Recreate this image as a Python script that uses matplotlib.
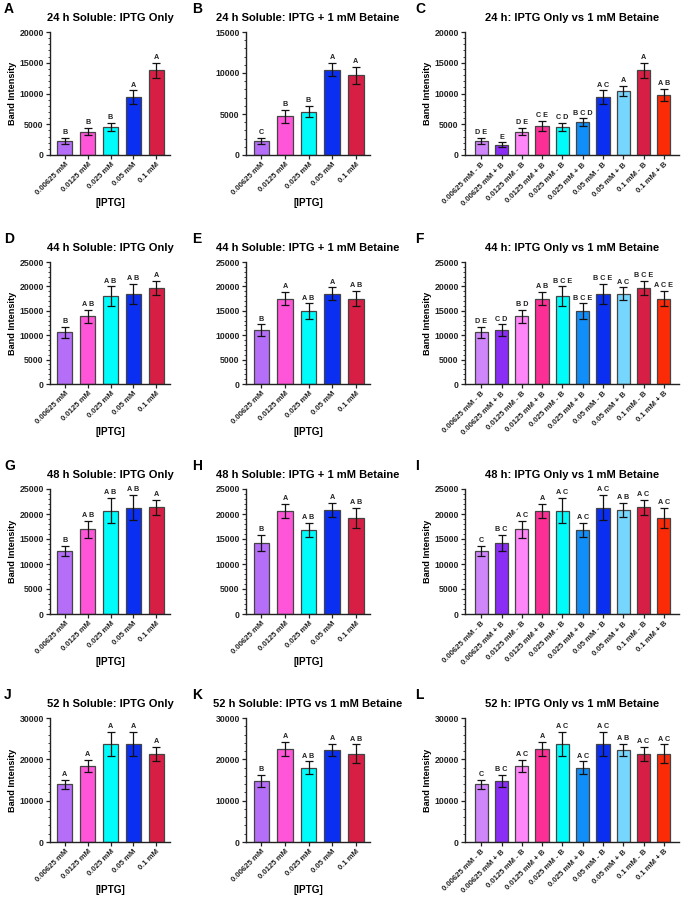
import matplotlib
matplotlib.use("Agg")
import matplotlib.pyplot as plt
import numpy as np
from matplotlib.ticker import MultipleLocator, AutoMinorLocator

plt.rcParams['font.family'] = ['Liberation Sans', 'DejaVu Sans']
plt.rcParams['font.weight'] = 'bold'

# concentrations
conc = ["0.00625 mM", "0.0125 mM", "0.025 mM", "0.05 mM", "0.1 mM"]
combo_labels = []
for c in conc:
    combo_labels += [c + " - B", c + " + B"]

# colours
single_colors = ["#b56ef8", "#ff55d8", "#00fbfb", "#0a2ff0", "#d71f45"]
combo_colors = ["#cf86fb", "#8a2df5", "#ff86f8", "#fb2f95", "#00fbfb",
                "#118ef7", "#0a2ff0", "#77d6fd", "#d71f45", "#fb2a07"]

# 24 h
h24_only = [2300, 3800, 4500, 9400, 13800]
h24_only_err = [450, 550, 650, 1100, 1200]
h24_only_let = ["B", "B", "B", "A", "A"]
h24_bet = [1700, 4700, 5300, 10400, 9700]
h24_bet_err = [350, 800, 650, 800, 1000]
h24_bet_let = ["C", "B", "B", "A", "A"]
h24_combo_let = ["D E", "E", "D E", "C E", "C D", "B C D", "A C", "A", "A", "A B"]

# 44 h
h44_only = [10600, 13900, 18000, 18400, 19700]
h44_only_err = [1100, 1300, 2000, 2100, 1400]
h44_only_let = ["B", "A B", "A B", "A B", "A"]
h44_bet = [11000, 17500, 14900, 18500, 17500]
h44_bet_err = [1200, 1300, 1600, 1300, 1600]
h44_bet_let = ["B", "A", "A B", "A", "A B"]
h44_combo_let = ["D E", "C D", "B D", "A B", "B C E", "B C E", "B C E", "A C", "B C E", "A C E"]

# 48 h
h48_only = [12600, 17000, 20700, 21300, 21400]
h48_only_err = [1000, 1700, 2500, 2500, 1500]
h48_only_let = ["B", "A B", "A B", "A B", "A"]
h48_bet = [14200, 20600, 16900, 20900, 19300]
h48_bet_err = [1600, 1400, 1400, 1400, 2000]
h48_bet_let = ["B", "A", "A B", "A", "A B"]
h48_combo_let = ["C", "B C", "A C", "A", "A C", "A C", "A C", "A B", "A C", "A C"]

# 52 h
h52_only = [14000, 18400, 23700, 23700, 21300]
h52_only_err = [1100, 1400, 3000, 2900, 1700]
h52_only_let = ["A", "A", "A", "A", "A"]
h52_bet = [14800, 22600, 18000, 22200, 21300]
h52_bet_err = [1400, 1700, 1500, 1500, 2300]
h52_bet_let = ["B", "A", "A B", "A", "A B"]
h52_combo_let = ["C", "B C", "A C", "A", "A C", "A C", "A C", "A B", "A C", "A C"]


def interleave(a, b):
    out = []
    for x, y in zip(a, b):
        out += [x, y]
    return out


W, H = 681, 899
fig = plt.figure(figsize=(W / 100, H / 100), dpi=100)


def px_axes(left, top, right, bottom):
    return fig.add_axes([left / W, 1 - bottom / H, (right - left) / W, (bottom - top) / H])


def bar_panel(ax, vals, errs, lets, colors, labels, ymax, major, title,
              ylabel=True, xlabel=True, pad_l=0.65, pad_r=0.6):
    x = np.arange(len(vals))
    ax.bar(x, vals, width=0.66, color=colors, edgecolor="#444444", linewidth=0.9, zorder=2)
    ax.errorbar(x, vals, yerr=errs, fmt="none", ecolor="#111111", elinewidth=0.9,
                capsize=3.2, capthick=0.9, zorder=3)
    for xi, v, e, t in zip(x, vals, errs, lets):
        ax.text(xi, v + e + ymax * 0.015, t, ha="center", va="bottom",
                fontsize=5.2, fontweight="bold", color="#222222")
    ax.set_xlim(-pad_l, len(vals) - 1 + pad_r)
    ax.set_ylim(0, ymax)
    ax.yaxis.set_major_locator(MultipleLocator(major))
    ax.yaxis.set_minor_locator(AutoMinorLocator(5))
    ax.set_xticks(x)
    ax.set_xticklabels(labels, rotation=45, ha="right", rotation_mode="anchor",
                       fontsize=5.6, fontweight="bold")
    for lab in ax.get_yticklabels():
        lab.set_fontsize(6.3)
        lab.set_fontweight("bold")
    ax.tick_params(axis="both", which="major", length=3, width=0.9, colors="#222222", pad=1.5)
    ax.tick_params(axis="y", which="minor", length=1.6, width=0.6, colors="#222222")
    ax.tick_params(axis="x", which="major", length=3)
    for s in ["top", "right"]:
        ax.spines[s].set_visible(False)
    for s in ["left", "bottom"]:
        ax.spines[s].set_linewidth(1.0)
        ax.spines[s].set_color("#222222")
    ax.set_title(title, fontsize=8, fontweight="bold", pad=8)
    if ylabel:
        ax.set_ylabel("Band Intensity", fontsize=6.6, fontweight="bold", labelpad=2)
    if xlabel:
        ax.set_xlabel("[IPTG]", fontsize=7.2, fontweight="bold", labelpad=1)


rows = [(32, 155), (262, 384), (489, 614), (718, 842)]
cols = [(50, 170), (246, 370), (465, 679)]

data = [
    ("24", h24_only, h24_only_err, h24_only_let, h24_bet, h24_bet_err, h24_bet_let,
     h24_combo_let, 20000, 5000, 15000, 5000, "24 h Soluble: IPTG + 1 mM Betaine"),
    ("44", h44_only, h44_only_err, h44_only_let, h44_bet, h44_bet_err, h44_bet_let,
     h44_combo_let, 25000, 5000, 25000, 5000, "44 h Soluble: IPTG + 1 mM Betaine"),
    ("48", h48_only, h48_only_err, h48_only_let, h48_bet, h48_bet_err, h48_bet_let,
     h48_combo_let, 25000, 5000, 25000, 5000, "48 h Soluble: IPTG + 1 mM Betaine"),
    ("52", h52_only, h52_only_err, h52_only_let, h52_bet, h52_bet_err, h52_bet_let,
     h52_combo_let, 30000, 10000, 30000, 10000, "52 h Soluble: IPTG vs 1 mM Betaine"),
]

panel_letters = "ABCDEFGHIJKL"
letter_x = [4, 192, 415]

for r, (hr, ov, oe, ol, bv, be, bl, cl, ymax, maj, bymax, bmaj, btitle) in enumerate(data):
    top, bottom = rows[r]
    ax1 = px_axes(cols[0][0], top, cols[0][1], bottom)
    bar_panel(ax1, ov, oe, ol, single_colors, conc, ymax, maj, hr + " h Soluble: IPTG Only")
    ax2 = px_axes(cols[1][0], top, cols[1][1], bottom)
    bar_panel(ax2, bv, be, bl, single_colors, conc, bymax, bmaj, btitle, ylabel=False)
    ax3 = px_axes(cols[2][0], top, cols[2][1], bottom)
    bar_panel(ax3, interleave(ov, bv), interleave(oe, be), cl, combo_colors, combo_labels,
              ymax, maj, hr + " h: IPTG Only vs 1 mM Betaine", xlabel=False,
              pad_l=0.8, pad_r=0.75)
    for c in range(3):
        fig.text(letter_x[c] / W, 1 - (top - 30) / H, panel_letters[r * 3 + c],
                 fontsize=10, fontweight="bold", va="top", ha="left")

fig.savefig("out.png", dpi=100)
